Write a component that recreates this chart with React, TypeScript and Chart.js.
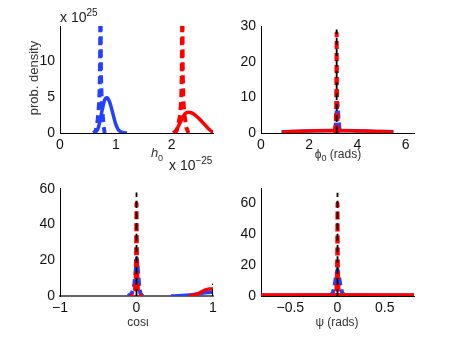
import React, { useEffect, useRef } from "react";
import { Chart, registerables } from "chart.js";

Chart.register(...registerables);

const BLUE = "rgb(35,65,255)";
const RED = "rgb(255,0,0)";
const BLACK = "rgb(0,0,0)";
const FONT = "'Liberation Sans', Arial, Helvetica, sans-serif";

// ---------- Panel 1: h0 (x in 1e-25, y in 1e25) ----------
const h0XTicks = [0, 1, 2];
const h0XTickLabels = ["0", "1", "2"];
const h0YTicks = [0, 5, 10];
const h0YTickLabels = ["0", "5", "10"];
const h0BlueSolidX = [0.62, 0.68, 0.72, 0.76, 0.8, 0.84, 0.88, 0.92, 0.96, 1.0, 1.04, 1.08, 1.14, 1.2];
const h0BlueSolidY = [0, 0.6, 1.8, 3.4, 4.6, 4.9, 4.5, 3.5, 2.3, 1.2, 0.5, 0.2, 0.05, 0];
const h0BlueDashX = [0.6, 0.64, 0.67, 0.69, 0.705, 0.716, 0.721, 0.725, 0.729, 0.734, 0.745, 0.76, 0.78, 0.8];
const h0BlueDashY = [0, 0.3, 1.5, 3, 5, 8, 14, 40, 14, 8, 5, 3, 1, 0];
const h0RedSolidX = [2.03, 2.08, 2.13, 2.18, 2.24, 2.3, 2.36, 2.42, 2.48, 2.54, 2.6, 2.66, 2.72, 2.76];
const h0RedSolidY = [0, 0.4, 1.1, 1.9, 2.7, 2.9, 2.8, 2.5, 2.1, 1.6, 1.1, 0.6, 0.2, 0.05];
const h0RedDashX = [2.05, 2.09, 2.12, 2.15, 2.17, 2.181, 2.186, 2.19, 2.194, 2.199, 2.21, 2.23, 2.26, 2.3];
const h0RedDashY = [0, 0.3, 1.2, 2.5, 4.5, 8, 14, 40, 14, 8, 4.5, 2.5, 0.8, 0];

// ---------- Panel 2: phi0 ----------
const phiXTicks = [0, 2, 4, 6];
const phiXTickLabels = ["0", "2", "4", "6"];
const phiYTicks = [0, 10, 20, 30];
const phiYTickLabels = ["0", "10", "20", "30"];
const phiBlackX = [3.14, 3.14];
const phiBlackY = [0, 29];
const phiRedDashX = [3.0, 3.06, 3.1, 3.12, 3.13, 3.14, 3.15, 3.16, 3.18, 3.22, 3.28];
const phiRedDashY = [0, 0.5, 2, 6, 14, 28, 14, 6, 2, 0.5, 0];
const phiBlueDashX = [3.0, 3.08, 3.12, 3.15, 3.17, 3.19, 3.22, 3.26, 3.32];
const phiBlueDashY = [0, 1, 3.5, 7, 8.5, 7, 3.5, 1, 0];
const phiRedSolidX = [0.87, 1.3, 1.8, 2.3, 2.8, 3.3, 3.8, 4.3, 4.8, 5.2, 5.49];
const phiRedSolidY = [0.3, 0.4, 0.5, 0.6, 0.65, 0.65, 0.6, 0.55, 0.45, 0.35, 0.3];
const phiBlueSolidX = [0.85, 1.3, 1.8, 2.3, 2.8, 3.3, 3.8, 4.3, 4.8, 5.2, 5.5];
const phiBlueSolidY = [0.3, 0.45, 0.55, 0.65, 0.7, 0.7, 0.65, 0.55, 0.45, 0.4, 0.3];

// ---------- Panel 3: cos(iota) ----------
const cosXTicks = [-1, 0, 1];
const cosXTickLabels = ["\u22121", "0", "1"];
const cosYTicks = [0, 20, 40, 60];
const cosYTickLabels = ["0", "20", "40", "60"];
const cosBlackX = [0, 0];
const cosBlackY = [0, 58];
const cosBlack2X = [1, 1];
const cosBlack2Y = [0, 7];
const cosRedDashX = [-0.08, -0.04, -0.02, -0.01, -0.005, 0, 0.005, 0.01, 0.02, 0.04, 0.08];
const cosRedDashY = [0, 0.5, 3, 10, 25, 52, 25, 10, 3, 0.5, 0];
const cosBlueDashX = [-0.11, -0.06, -0.03, -0.01, 0.005, 0.02, 0.035, 0.05, 0.08];
const cosBlueDashY = [0, 1.5, 6, 14, 21, 14, 6, 1.5, 0];
const cosBlueSolidX = [0.45, 0.55, 0.65, 0.75, 0.85, 0.92, 1.0];
const cosBlueSolidY = [0, 0.1, 0.4, 0.9, 1.5, 1.9, 2.1];
const cosRedSolidX = [0.68, 0.75, 0.8, 0.85, 0.9, 0.95, 1.0];
const cosRedSolidY = [0, 0.4, 1.2, 2.4, 3.4, 3.9, 4.0];

// ---------- Panel 4: psi ----------
const psiXTicks = [-0.5, 0, 0.5];
const psiXTickLabels = ["\u22120.5", "0", "0.5"];
const psiYTicks = [0, 20, 40, 60];
const psiYTickLabels = ["0", "20", "40", "60"];
const psiBlackX = [0, 0];
const psiBlackY = [0, 67];
const psiRedDashX = [-0.05, -0.025, -0.012, -0.006, -0.003, 0, 0.003, 0.006, 0.012, 0.025, 0.05];
const psiRedDashY = [0, 0.5, 3, 10, 28, 60, 28, 10, 3, 0.5, 0];
const psiBlueDashX = [-0.08, -0.05, -0.03, -0.015, 0, 0.015, 0.03, 0.05, 0.08];
const psiBlueDashY = [0, 2, 7, 13, 17, 13, 7, 2, 0];
const psiRedSolidX = [-0.81, -0.6, -0.4, -0.2, 0, 0.2, 0.4, 0.6, 0.81];
const psiRedSolidY = [0.6, 0.6, 0.65, 0.65, 0.7, 0.65, 0.65, 0.6, 0.6];
const psiBlueSolidX = [-0.81, -0.4, 0, 0.4, 0.81];
const psiBlueSolidY = [0.5, 0.55, 0.6, 0.55, 0.5];

type Series = { xs: number[]; ys: number[]; color: string; dash: number[] | null; width: number; peak: boolean };

type PanelProps = {
  left: number;
  top: number;
  padLeft: number;
  padTop: number;
  padRight: number;
  padBottom: number;
  xMin: number;
  xMax: number;
  yMax: number;
  xTicks: number[];
  xTickLabels: string[];
  yTicks: number[];
  yTickLabels: string[];
  series: Series[];
  xBorderColor?: string;
  xBorderWidth?: number;
};

const W = 229;
const H = 172;

// dash offset that makes the rising and falling halves of a narrow peak share dash positions
function mirrorOffset(chart: any, idx: number): number {
  const xs = chart.scales && chart.scales.x;
  const ys = chart.scales && chart.scales.y;
  const ds = chart.data.datasets[idx];
  if (!xs || !ys || !ds || !ds.borderDash || ds.borderDash.length < 2) return 0;
  const pts = ds.data as { x: number; y: number }[];
  let L = 0;
  for (let k = 1; k < pts.length; k++) {
    const dx = xs.getPixelForValue(pts[k].x) - xs.getPixelForValue(pts[k - 1].x);
    const dy = ys.getPixelForValue(pts[k].y) - ys.getPixelForValue(pts[k - 1].y);
    L += Math.hypot(dx, dy);
  }
  if (!isFinite(L)) return 0;
  const d = ds.borderDash[0];
  const P = ds.borderDash[0] + ds.borderDash[1];
  let o = ((d - L) / 2) % P;
  if (o < 0) o += P;
  return o;
}

function Panel(p: PanelProps) {
  const ref = useRef<HTMLCanvasElement | null>(null);
  useEffect(() => {
    if (!ref.current) return;
    const chart = new Chart(ref.current, {
      type: "line",
      data: {
        datasets: p.series.map((s) => ({
          data: s.xs.map((x, i) => ({ x, y: s.ys[i] })),
          borderColor: s.color,
          backgroundColor: s.color,
          borderWidth: s.width,
          borderDash: s.dash || [],
          borderDashOffset: s.peak ? (ctx: any) => mirrorOffset(ctx.chart, ctx.datasetIndex) : 0,
          borderCapStyle: "butt",
          borderJoinStyle: "round",
          pointRadius: 0,
          fill: false,
          tension: 0,
          cubicInterpolationMode: s.peak ? "default" : "monotone",
        })),
      },
      options: {
        responsive: false,
        animation: false,
        devicePixelRatio: 1,
        layout: { padding: { top: p.padTop, right: p.padRight, left: 0, bottom: 0 } },
        plugins: { legend: { display: false }, tooltip: { enabled: false } },
        scales: {
          x: {
            type: "linear",
            min: p.xMin,
            max: p.xMax,
            grid: { display: false, drawTicks: false },
            border: { display: true, color: p.xBorderColor || "#000", width: p.xBorderWidth || 1 },
            ticks: {
              autoSkip: false,
              maxRotation: 0,
              padding: 4,
              color: "#111",
              font: { family: FONT, size: 14 },
              callback: (v: any) => {
                const i = p.xTicks.findIndex((t) => Math.abs(t - Number(v)) < 1e-9);
                return i >= 0 ? p.xTickLabels[i] : "";
              },
            },
            afterBuildTicks: (sc: any) => {
              sc.ticks = p.xTicks.map((v) => ({ value: v }));
            },
            afterFit: (sc: any) => {
              sc.height = p.padBottom;
            },
          },
          y: {
            type: "linear",
            min: 0,
            max: p.yMax,
            grid: { display: false, drawTicks: false },
            border: { display: true, color: "#000", width: 1 },
            ticks: {
              autoSkip: false,
              padding: 5,
              color: "#111",
              font: { family: FONT, size: 14 },
              callback: (v: any) => {
                const i = p.yTicks.findIndex((t) => Math.abs(t - Number(v)) < 1e-9);
                return i >= 0 ? p.yTickLabels[i] : "";
              },
            },
            afterBuildTicks: (sc: any) => {
              sc.ticks = p.yTicks.map((v) => ({ value: v }));
            },
            afterFit: (sc: any) => {
              sc.width = p.padLeft;
            },
          },
        },
      },
    } as any);
    return () => chart.destroy();
  }, []);
  return (
    <canvas
      ref={ref}
      width={W}
      height={H}
      style={{ position: "absolute", left: p.left, top: p.top, width: W, height: H }}
    />
  );
}

const labelStyle: React.CSSProperties = {
  position: "absolute",
  fontFamily: FONT,
  color: "#333",
  whiteSpace: "nowrap",
  lineHeight: 1,
};

export default function App() {
  const solid = (xs: number[], ys: number[], color: string, width: number): Series => ({
    xs, ys, color, dash: null, width, peak: false,
  });
  const peak = (xs: number[], ys: number[], color: string, width: number, dash: number[]): Series => ({
    xs, ys, color, dash, width, peak: true,
  });
  const line = (xs: number[], ys: number[]): Series => ({
    xs, ys, color: BLACK, dash: [7, 4], width: 1.8, peak: false,
  });

  const h0Series = [
    peak(h0BlueDashX, h0BlueDashY, BLUE, 4, [8, 5]),
    solid(h0BlueSolidX, h0BlueSolidY, BLUE, 3.5),
    peak(h0RedDashX, h0RedDashY, RED, 4, [8, 5]),
    solid(h0RedSolidX, h0RedSolidY, RED, 3.5),
  ];
  const phiSeries = [
    line(phiBlackX, phiBlackY),
    peak(phiRedDashX, phiRedDashY, RED, 4, [8, 4]),
    solid(phiRedSolidX, phiRedSolidY, RED, 3.5),
    peak(phiBlueDashX, phiBlueDashY, BLUE, 4, [8, 4]),
    solid(phiBlueSolidX, phiBlueSolidY, BLUE, 3.5),
  ];
  const cosSeries = [
    line(cosBlackX, cosBlackY),
    line(cosBlack2X, cosBlack2Y),
    peak(cosRedDashX, cosRedDashY, RED, 4, [8, 4]),
    solid(cosRedSolidX, cosRedSolidY, RED, 3.5),
    peak(cosBlueDashX, cosBlueDashY, BLUE, 4, [8, 4]),
    solid(cosBlueSolidX, cosBlueSolidY, BLUE, 3.5),
  ];
  const psiSeries = [
    line(psiBlackX, psiBlackY),
    peak(psiRedDashX, psiRedDashY, RED, 4, [8, 4]),
    solid(psiRedSolidX, psiRedSolidY, RED, 3.5),
    peak(psiBlueDashX, psiBlueDashY, BLUE, 4, [8, 4]),
    solid(psiBlueSolidX, psiBlueSolidY, BLUE, 3.5),
  ];

  return (
    <div style={{ position: "absolute", left: 0, top: 0, width: 458, height: 344, background: "#fff", overflow: "hidden" }}>
      <Panel left={0} top={0} padLeft={60} padTop={26} padRight={16} padBottom={39}
        xMin={0} xMax={2.74} yMax={14.9}
        xTicks={h0XTicks} xTickLabels={h0XTickLabels} yTicks={h0YTicks} yTickLabels={h0YTickLabels}
        series={h0Series} />
      <Panel left={229} top={0} padLeft={32} padTop={26} padRight={44} padBottom={39}
        xMin={0} xMax={6.35} yMax={30}
        xTicks={phiXTicks} xTickLabels={phiXTickLabels} yTicks={phiYTicks} yTickLabels={phiYTickLabels}
        series={phiSeries} />
      <Panel left={0} top={172} padLeft={60} padTop={16} padRight={16} padBottom={48}
        xMin={-1} xMax={1} yMax={60.5}
        xTicks={cosXTicks} xTickLabels={cosXTickLabels} yTicks={cosYTicks} yTickLabels={cosYTickLabels}
        series={cosSeries} xBorderColor="#666" xBorderWidth={2} />
      <Panel left={229} top={172} padLeft={32} padTop={16} padRight={44} padBottom={48}
        xMin={-0.81} xMax={0.81} yMax={70}
        xTicks={psiXTicks} xTickLabels={psiXTickLabels} yTicks={psiYTicks} yTickLabels={psiYTickLabels}
        series={psiSeries} />

      {/* exponent labels */}
      <div style={{ ...labelStyle, left: 60, top: 8, fontSize: 14, color: "#222" }}>
        x 10<sup style={{ fontSize: 10, verticalAlign: "6px" }}>25</sup>
      </div>
      <div style={{ ...labelStyle, left: 169, top: 156, fontSize: 14, color: "#222" }}>
        x 10<sup style={{ fontSize: 10, verticalAlign: "6px" }}>{"\u221225"}</sup>
      </div>

      {/* y label */}
      <div style={{ ...labelStyle, left: 33, top: 78, fontSize: 13, transform: "translate(-50%, -50%) rotate(-90deg)" }}>
        prob. density
      </div>

      {/* x labels */}
      <div style={{ ...labelStyle, left: 157, top: 146, fontSize: 13, transform: "translateX(-50%)" }}>
        <i>h</i><sub style={{ fontSize: 9 }}>0</sub>
      </div>
      <div style={{ ...labelStyle, left: 338, top: 148, fontSize: 12, transform: "translateX(-50%)" }}>
        ϕ<sub style={{ fontSize: 9 }}>0</sub> (rads)
      </div>
      <div style={{ ...labelStyle, left: 138, top: 316, fontSize: 12, transform: "translateX(-50%)" }}>
        cosι
      </div>
      <div style={{ ...labelStyle, left: 337, top: 316, fontSize: 12, transform: "translateX(-50%)" }}>
        ψ (rads)
      </div>
    </div>
  );
}
